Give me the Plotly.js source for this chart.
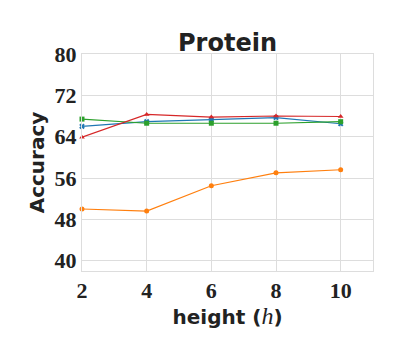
<!DOCTYPE html>
<html>
<head>
<meta charset="utf-8">
<script src="https://cdn.plot.ly/plotly-3.0.1.min.js"></script>
<style>
  html, body { margin: 0; padding: 0; background: #fff; }
  #plot { width: 400px; height: 350px; }
</style>
</head>
<body>
<div id="plot"></div>
<script>
// heights on the x axis
var heights = [2, 4, 6, 8, 10];

// accuracy per series
var blueAcc   = [66.0, 66.9, 67.3, 67.7, 66.5];
var orangeAcc = [50.0, 49.6, 54.5, 57.0, 57.6];
var greenAcc  = [67.4, 66.6, 66.6, 66.6, 66.9];
var redAcc    = [63.9, 68.3, 67.8, 68.0, 67.9];

var yTicks = [40, 48, 56, 64, 72, 80];

function series(y, color, symbol) {
  return {
    x: heights,
    y: y,
    type: "scatter",
    mode: "lines+markers",
    line: {color: color, width: 1.2},
    marker: {color: color, symbol: symbol, size: 5},
    cliponaxis: false,
    showlegend: false
  };
}

var data = [
  series(blueAcc, "#1f77b4", "x"),
  series(orangeAcc, "#ff7f0e", "circle"),
  series(greenAcc, "#2ca02c", "square"),
  series(redAcc, "#d62728", "triangle-up")
];

var tickFont = {family: "Liberation Serif", size: 22, color: "#222", weight: "bold"};
var labelFont = {family: "DejaVu Sans", size: 20, color: "#222"};

var layout = {
  width: 400,
  height: 350,
  margin: {l: 82, r: 27, t: 54, b: 79},
  paper_bgcolor: "#fff",
  plot_bgcolor: "#fff",
  title: {
    text: "<b>Protein</b>",
    font: {family: "DejaVu Sans", size: 24, color: "#222"},
    xref: "paper", x: 0.5, xanchor: "center",
    yref: "container", y: 0.855, yanchor: "bottom"
  },
  xaxis: {
    range: [2, 11],
    tickvals: heights,
    ticktext: heights.map(String),
    tickfont: tickFont,
    showgrid: true, gridcolor: "#dddddd", gridwidth: 1,
    showline: true, linecolor: "#dddddd", linewidth: 1, mirror: true,
    zeroline: false, ticks: "",
    title: {
      text: "<b>height (</b><span style=\"font-family:'Liberation Serif';font-size:24px\"><i>h</i></span><b>)</b>",
      font: labelFont, standoff: 1
    }
  },
  yaxis: {
    range: [38, 80],
    tickvals: yTicks,
    ticktext: yTicks.map(String),
    tickfont: tickFont,
    showgrid: true, gridcolor: "#dddddd", gridwidth: 1,
    showline: true, linecolor: "#dddddd", linewidth: 1, mirror: true,
    zeroline: false, ticks: "",
    title: {text: "<b>Accuracy</b>", font: labelFont, standoff: 4}
  }
};

Plotly.newPlot("plot", data, layout, {displayModeBar: false, staticPlot: true});
</script>
</body>
</html>
